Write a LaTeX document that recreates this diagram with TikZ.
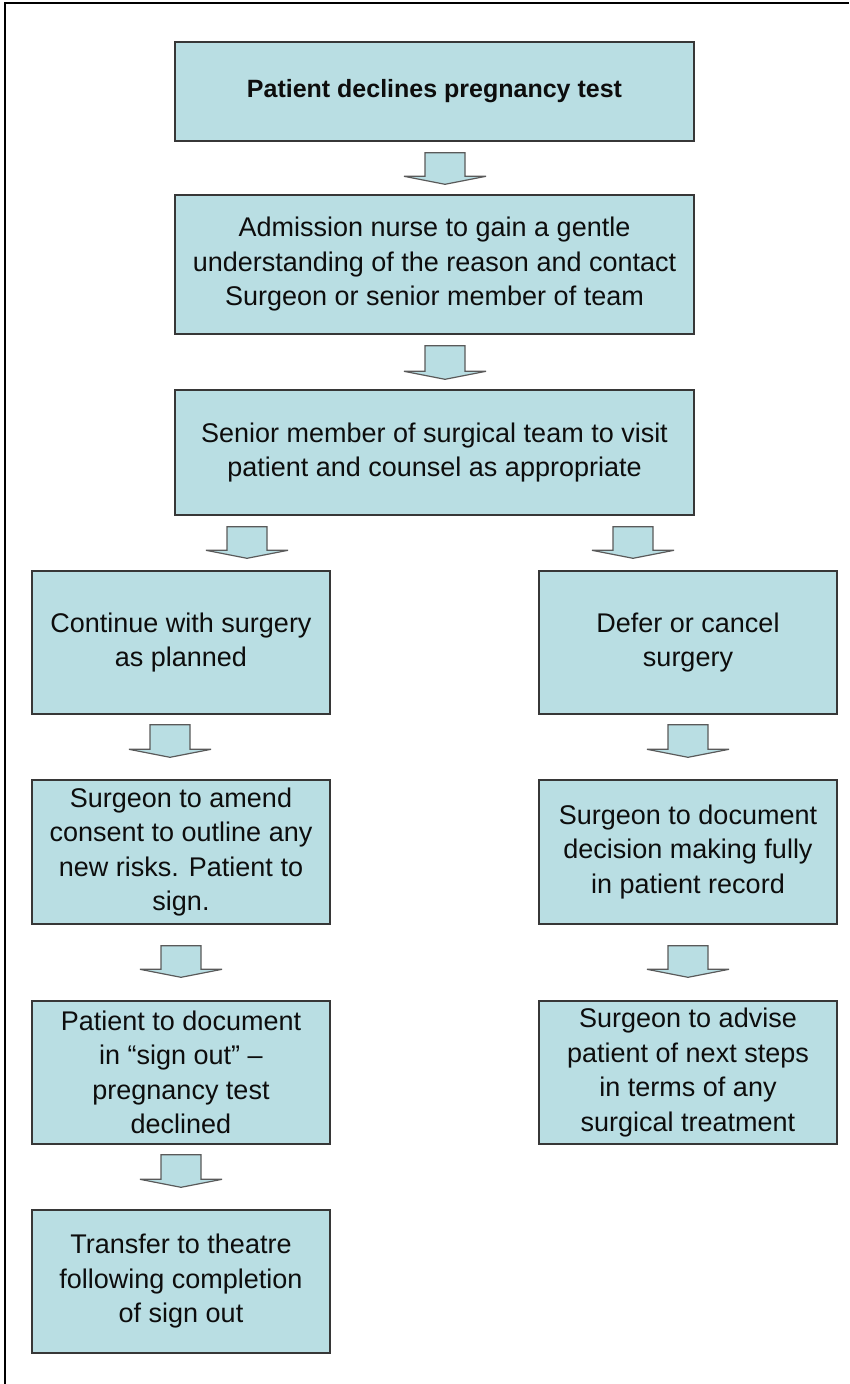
\documentclass[tikz,border=0pt]{standalone}
\usepackage{fontspec}
\setmainfont{Liberation Sans}
\usetikzlibrary{calc}

\definecolor{boxblue}{RGB}{185,222,227}
\definecolor{boxline}{RGB}{55,55,55}
\definecolor{arrline}{RGB}{90,90,90}

\newcommand{\flowarrow}[5]{%
  \draw[flowarr] let \p1=(#1.south), \p2=(#2.north) in
    ({#3pt-20pt},{\y1-#4pt}) -- ({#3pt+20pt},{\y1-#4pt})
    -- ({#3pt+20pt},{\y2+#5pt+8pt}) -- ({#3pt+41pt},{\y2+#5pt+8pt})
    -- ({#3pt},{\y2+#5pt}) -- ({#3pt-41pt},{\y2+#5pt+8pt})
    -- ({#3pt-20pt},{\y2+#5pt+8pt}) -- cycle;}

\begin{document}
\begin{tikzpicture}[x=1pt,y=-1pt,
    flowbox/.style={draw=boxline, fill=boxblue, line width=1.4pt, align=center,
      inner sep=0pt, text=black!95, font=\fontsize{27}{34.5}\selectfont},
    widebox/.style={flowbox, minimum width=519pt},
    narrowbox/.style={flowbox, minimum width=298pt, minimum height=143pt},
    flowarr/.style={draw=arrline, fill=boxblue, line width=1.2pt, line join=miter}]
  \useasboundingbox (0,0) rectangle (849,1384);
  \draw[line width=2pt] (5,1384) -- (5,3) -- (849,3);

  \node[widebox, minimum height=99pt]  (declines) at (434.5,91.5)
    {\fontsize{25}{30}\selectfont\textbf{Patient declines pregnancy test}};
  \node[widebox, minimum height=139pt] (nurse)    at (434.5,264.5)
    {Admission nurse to gain a gentle\\understanding of the reason and contact\\Surgeon or senior member of team};
  \node[widebox, minimum height=125pt] (senior)   at (434.5,452.5)
    {Senior member of surgical team to visit\\patient and counsel as appropriate};

  \node[narrowbox] (continue) at (181,642.5) {Continue with surgery\\as planned};
  \node[narrowbox] (defer)    at (688,642.5) {Defer or cancel\\surgery};
  \node[narrowbox, minimum height=144pt] (amend)  at (181,852)
    {Surgeon to amend\\consent to outline any\\new risks. Patient to\\sign.};
  \node[narrowbox, minimum height=144pt] (record) at (688,852)
    {Surgeon to document\\decision making fully\\in patient record};
  \node[narrowbox] (signout) at (181,1072.5)
    {Patient to document\\in “sign out” --\\pregnancy test\\declined};
  \node[narrowbox] (advise)  at (688,1072.5)
    {Surgeon to advise\\patient of next steps\\in terms of any\\surgical treatment};
  \node[narrowbox] (theatre) at (181,1281.5)
    {Transfer to theatre\\following completion\\of sign out};

  \flowarrow{declines}{nurse}{445}{11}{10}
  \flowarrow{nurse}{senior}{445}{11}{10}
  \flowarrow{senior}{continue}{247}{11}{12}
  \flowarrow{senior}{defer}{633}{11}{12}
  \flowarrow{continue}{amend}{170}{10}{22}
  \flowarrow{defer}{record}{688}{10}{22}
  \flowarrow{amend}{signout}{181}{21}{23}
  \flowarrow{record}{advise}{688}{21}{23}
  \flowarrow{signout}{theatre}{181}{10}{22}
\end{tikzpicture}
\end{document}
